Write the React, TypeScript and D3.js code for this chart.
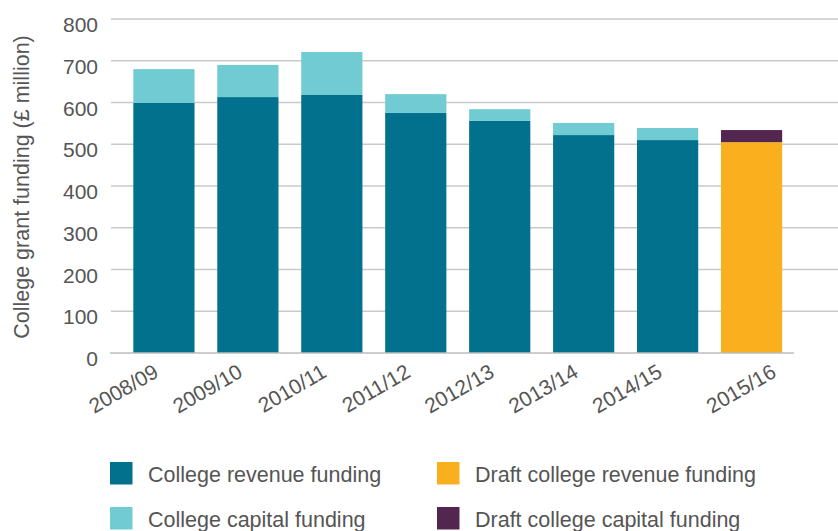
import React from "react";
import * as d3 from "d3";

const categories = ["2008/09", "2009/10", "2010/11", "2011/12", "2012/13", "2013/14", "2014/15", "2015/16"];
const revenueFunding = [599, 613, 618, 575, 556, 522, 510, 0];
const capitalFunding = [81, 77, 103, 45, 28, 29, 29, 0];
const draftRevenueFunding = [0, 0, 0, 0, 0, 0, 0, 505];
const draftCapitalFunding = [0, 0, 0, 0, 0, 0, 0, 29];
const yTicks = [0, 100, 200, 300, 400, 500, 600, 700, 800];
const seriesNames = [
  "College revenue funding",
  "College capital funding",
  "Draft college revenue funding",
  "Draft college capital funding",
];
const seriesColors = ["#02718E", "#71CBD2", "#FAAF1F", "#53264F"];

const W = 838;
const H = 531;
const FONT = "'Liberation Sans', Arial, Helvetica, sans-serif";
const TEXT = "#555555";

export default function App() {
  const y = d3.scaleLinear().domain([0, 800]).range([353, 19]);
  const x = d3
    .scaleBand<string>()
    .domain(categories)
    .range([111, 804.5])
    .paddingInner(0.271)
    .paddingOuter(0.266);

  const table = categories.map((c, i) => ({
    cat: c,
    values: [revenueFunding[i], capitalFunding[i], draftRevenueFunding[i], draftCapitalFunding[i]],
  }));
  const stackOrder = [0, 2, 1, 3];

  const bars: JSX.Element[] = [];
  table.forEach((row, i) => {
    let acc = 0;
    stackOrder.forEach((s) => {
      const v = row.values[s];
      if (v <= 0) return;
      const y0 = y(acc);
      const y1 = y(acc + v);
      acc += v;
      bars.push(
        <rect
          key={`${i}-${s}`}
          x={x(row.cat)}
          y={y1}
          width={x.bandwidth()}
          height={y0 - y1}
          fill={seriesColors[s]}
        />
      );
    });
  });

  const legendPos = [
    { x: 110, y: 462 },
    { x: 110, y: 507 },
    { x: 437, y: 462 },
    { x: 437, y: 507 },
  ];

  return (
    <svg width={W} height={H} style={{ position: "absolute", left: 0, top: 0, background: "#fff" }}>
      {yTicks.filter((t) => t > 0).map((t) => (
        <line key={t} x1={111} x2={838} y1={y(t)} y2={y(t)} stroke="#c9c9c9" strokeWidth={1.5} />
      ))}
      {bars}
      <line x1={110} x2={794} y1={y(0)} y2={y(0)} stroke="#bdbdbd" strokeWidth={1.5} />
      {yTicks.map((t) => (
        <text
          key={t}
          x={98}
          y={y(t) + 13}
          textAnchor="end"
          fontFamily={FONT}
          fontSize={21}
          fill={TEXT}
        >
          {t}
        </text>
      ))}
      <text
        transform={`translate(29,187) rotate(-90)`}
        textAnchor="middle"
        fontFamily={FONT}
        fontSize={21.5}
        fill={TEXT}
      >
        College grant funding (£ million)
      </text>
      {categories.map((c, i) => {
        const cx = (x(c) as number) + x.bandwidth() / 2;
        const dx = i === categories.length - 1 ? 26 : -4;
        return (
          <text
            key={c}
            transform={`translate(${cx + dx},376) rotate(-30)`}
            textAnchor="end"
            fontFamily={FONT}
            fontSize={21}
            fill={TEXT}
          >
            {c}
          </text>
        );
      })}
      {seriesNames.map((n, i) => (
        <g key={n} transform={`translate(${legendPos[i].x},${legendPos[i].y})`}>
          <rect x={0} y={0} width={22.5} height={22.5} fill={seriesColors[i]} />
          <text x={38} y={20} fontFamily={FONT} fontSize={21.5} fill={TEXT}>
            {n}
          </text>
        </g>
      ))}
    </svg>
  );
}
